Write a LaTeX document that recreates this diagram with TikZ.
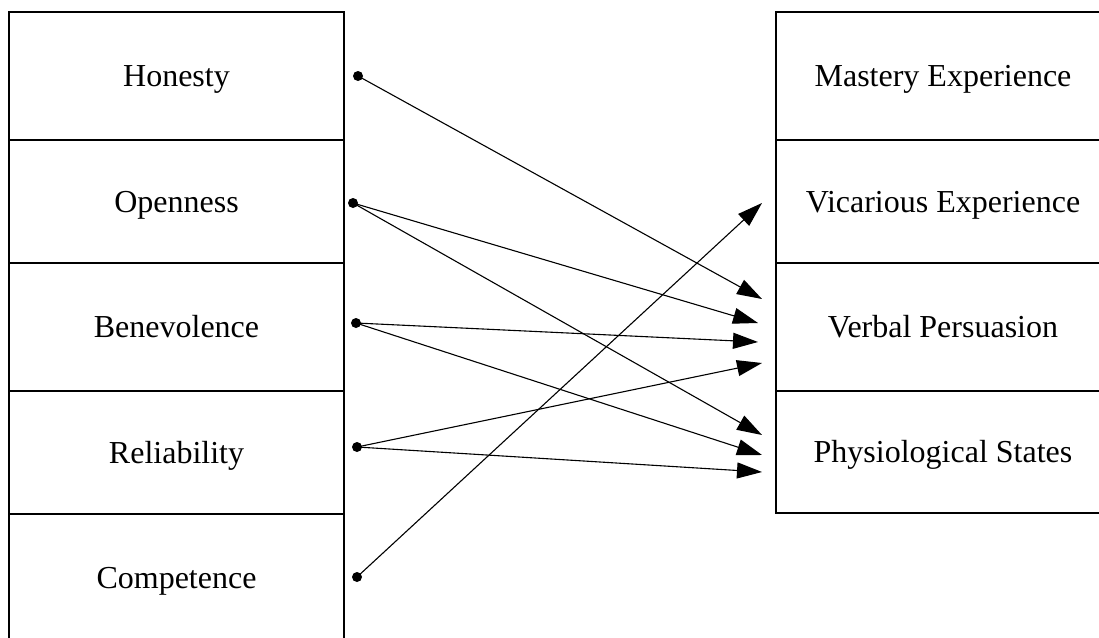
\documentclass[tikz,border=0pt]{standalone}
\usepackage{fontspec}
\setmainfont{Liberation Serif}
\usetikzlibrary{arrows.meta}
\tikzset{
  box/.style={draw, line width=1.6pt, inner sep=0pt, outer sep=0pt, text height=21pt, text depth=0pt, font=\fontsize{32}{38}\selectfont},
  leftbox/.style={box, minimum width=335pt},
  rightbox/.style={box, minimum width=334pt},
  arr/.style={line width=1.1pt, -{Triangle[length=25pt,width=16pt]}},
  dot/.style={fill=black}
}
\begin{document}
\begin{tikzpicture}[x=1pt,y=-1pt]
\useasboundingbox (0,0) rectangle (1099,637);
\clip (0,0) rectangle (1099,637);
% left column
\node[leftbox, minimum height=128pt] (hon) at (176.5,76) {Honesty};
\node[leftbox, minimum height=123pt] (ope) at (176.5,201.5) {Openness};
\node[leftbox, minimum height=128pt] (ben) at (176.5,327) {Benevolence};
\node[leftbox, minimum height=123pt] (rel) at (176.5,452.5) {Reliability};
\node[leftbox, minimum height=127pt] (com) at (176.5,577.5) {Competence};
% right column
\node[rightbox, minimum height=128pt] (mas) at (943,76) {Mastery Experience};
\node[rightbox, minimum height=123pt] (vic) at (943,201.5) {Vicarious Experience};
\node[rightbox, minimum height=128pt] (ver) at (943,327) {Verbal Persuasion};
\node[rightbox, minimum height=122pt] (phy) at (943,452) {Physiological States};
% dots
\coordinate (dh) at (358,76);
\coordinate (do) at (353,203);
\coordinate (db) at (356,323);
\coordinate (dr) at (357,447);
\coordinate (dc) at (357,577);
\foreach \d in {dh,do,db,dr,dc} \fill[dot] (\d) circle (5);
% arrow tips
\coordinate (vic1) at (762,203);
\coordinate (ver1) at (762,299);
\coordinate (ver2) at (758,323);
\coordinate (ver3) at (758,342);
\coordinate (ver4) at (762,363);
\coordinate (phy1) at (762,435);
\coordinate (phy2) at (762,455);
\coordinate (phy3) at (762,472);
% connectors
\draw[arr] (dh) -- (ver1);
\draw[arr] (do) -- (ver2);
\draw[arr] (do) -- (phy1);
\draw[arr] (db) -- (ver3);
\draw[arr] (db) -- (phy2);
\draw[arr] (dr) -- (ver4);
\draw[arr] (dr) -- (phy3);
\draw[arr] (dc) -- (vic1);
\end{tikzpicture}
\end{document}
